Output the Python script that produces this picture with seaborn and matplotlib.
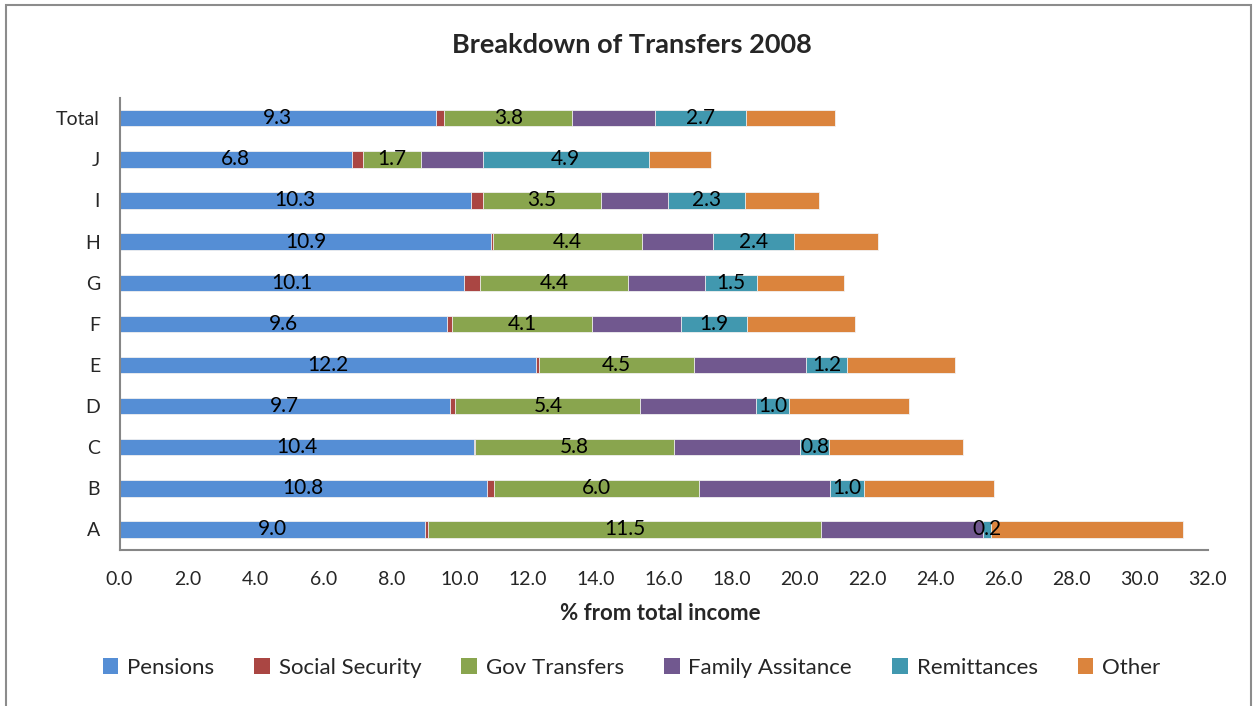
import numpy as np
import pandas as pd
import matplotlib.pyplot as plt
from matplotlib.patches import Patch, Rectangle
import seaborn as sns

# Données (en % du revenu total)
groups = ["Total", "J", "I", "H", "G", "F", "E", "D", "C", "B", "A"]
series = ["Pensions", "Social Security", "Gov Transfers",
          "Family Assitance", "Remittances", "Other"]

pensions = [9.31, 6.84, 10.33, 10.94, 10.14, 9.64, 12.24, 9.72, 10.44, 10.80, 8.99]
social_security = [0.24, 0.31, 0.37, 0.05, 0.45, 0.14, 0.11, 0.16, 0.02, 0.20, 0.09]
gov_transfers = [3.77, 1.73, 3.46, 4.38, 4.38, 4.13, 4.54, 5.44, 5.84, 6.04, 11.54]
family_assistance = [2.42, 1.80, 1.96, 2.10, 2.25, 2.60, 3.29, 3.41, 3.72, 3.87, 4.78]
remittances = [2.70, 4.88, 2.29, 2.36, 1.53, 1.94, 1.22, 0.97, 0.84, 0.98, 0.23]
other = [2.59, 1.83, 2.15, 2.47, 2.56, 3.18, 3.16, 3.51, 3.95, 3.82, 5.65]

# séries portant une étiquette de données
labelled = ["Pensions", "Gov Transfers", "Remittances"]

colors = ["#558ED5", "#AA4643", "#89A54E", "#71588F", "#4198AF", "#DB843D"]

df = pd.DataFrame({"group": groups,
                   "Pensions": pensions,
                   "Social Security": social_security,
                   "Gov Transfers": gov_transfers,
                   "Family Assitance": family_assistance,
                   "Remittances": remittances,
                   "Other": other})

# Cumuls pour l'empilement
cum = df[series].cumsum(axis=1)
cum["group"] = df["group"]

sns.set_theme(style="white")
plt.rcParams["font.family"] = ["Lato", "DejaVu Sans"]

fig = plt.figure(figsize=(12.53, 7.06), dpi=100)
ax = fig.add_axes([119.5 / 1253, 1 - 550 / 706, (1207.5 - 119.5) / 1253, (550 - 97.7) / 706])

# Barres empilées : on trace les cumuls du plus long au plus court
for s, c in reversed(list(zip(series, colors))):
    sns.barplot(data=cum, x=s, y="group", order=groups, color=c, orient="h",
                width=0.4, edgecolor="#f2f2f2", linewidth=0.6, saturation=1, ax=ax)

# Étiquettes de données
for i, g in enumerate(groups):
    for s in labelled:
        v = df.loc[i, s]
        centre = cum.loc[i, s] - v / 2
        ax.text(centre, i, f"{v:.1f}", ha="center", va="center", fontsize=15, color="black")

ax.set_xlim(0, 32)
ax.set_ylim(10.5, -0.5)
ax.set_xticks(np.arange(0, 33, 2))
ax.set_xticklabels([f"{t:.1f}" for t in np.arange(0, 33, 2)], fontsize=14)
ax.set_yticks(range(len(groups)))
ax.set_yticklabels(groups, fontsize=14)
ax.set_yticks(np.arange(-0.5, 11, 1), minor=True)
ax.tick_params(axis="y", which="major", length=0, pad=14)
ax.tick_params(axis="y", which="minor", length=6, width=1.3, color="#868686", direction="out")
ax.tick_params(axis="x", which="major", length=6, width=1.3, color="#868686", direction="out", pad=9)
ax.set_ylabel("")
ax.set_xlabel("")

for side in ["top", "right"]:
    ax.spines[side].set_visible(False)
for side in ["left", "bottom"]:
    ax.spines[side].set_color("#868686")
    ax.spines[side].set_linewidth(1.5)

fig.text(0.504, 1 - 45 / 706, "Breakdown of Transfers 2008", ha="center", va="center",
         fontsize=19.5, fontweight="bold")
fig.text(0.527, 1 - 614 / 706, "% from total income", ha="center", va="center",
         fontsize=16, fontweight="bold")

handles = [Patch(facecolor=c, edgecolor="none", label=s) for s, c in zip(series, colors)]
fig.legend(handles=handles, loc="center", bbox_to_anchor=(0.504, 1 - 668 / 706), ncol=6,
           frameon=False, fontsize=16, handlelength=0.7, handleheight=0.7,
           handletextpad=0.4, columnspacing=1.8)

# Cadre du graphique
fig.patches.append(Rectangle((6 / 1253, -0.02), (1251 - 6) / 1253, 1.02 - 5 / 706,
                             transform=fig.transFigure, fill=False,
                             edgecolor="#8c8c8c", linewidth=1.5))

fig.savefig("out.png", dpi=100)
